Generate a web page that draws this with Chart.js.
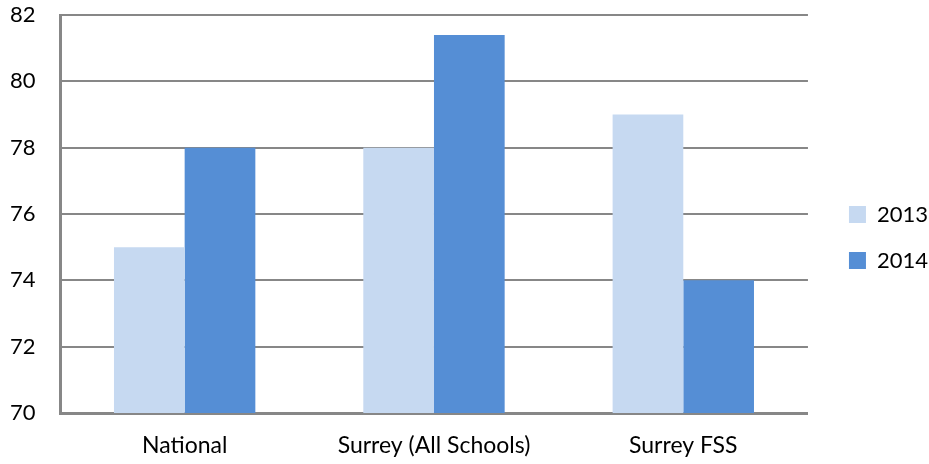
<!DOCTYPE html>
<html>
<head>
<meta charset="utf-8">
<script src="https://cdn.jsdelivr.net/npm/chart.js@4/dist/chart.umd.min.js"></script>
<style>
  html, body { margin: 0; padding: 0; background: #fff; }
  #wrap { width: 929px; height: 464px; }
</style>
</head>
<body>
<div id="wrap"><canvas id="chart1" width="929" height="464"></canvas></div>
<script>
var categories = ['National', 'Surrey (All Schools)', 'Surrey FSS'];
var values2013 = [75, 78, 79];
var values2014 = [78, 81.4, 74];
var yTicks = [70, 72, 74, 76, 78, 80, 82];

var axisGrey = '#878787';

// push the legend a bit further away from the plot (labels.padding is also the row gap)
var legendShift = {
  id: 'legendShift',
  afterLayout: function (chart) {
    chart.legend.left += 17;
    chart.legend.right += 17;
  }
};

var schoolsChart = new Chart(document.getElementById("chart1"), {
  type: 'bar',
  data: {
    labels: categories,
    datasets: [
      { label: '2013', data: values2013, backgroundColor: '#C6D9F1' },
      { label: '2014', data: values2014, backgroundColor: '#558ED5' }
    ]
  },
  plugins: [legendShift],
  options: {
    responsive: false,
    animation: false,
    layout: { padding: { left: 10, top: 15, right: 8, bottom: 4 } },
    datasets: {
      bar: { categoryPercentage: 0.567, barPercentage: 1.0 }
    },
    plugins: {
      legend: {
        position: 'right',
        labels: {
          boxWidth: 17,
          boxHeight: 17,
          padding: 24,
          color: '#000',
          font: { family: 'Lato', size: 22 }
        }
      },
      tooltip: { enabled: false }
    },
    scales: {
      x: {
        afterFit: function (scale) {
          scale.height = 47;
        },
        grid: { display: false, drawTicks: false },
        border: { display: true, color: axisGrey, width: 3 },
        ticks: {
          padding: 19,
          color: '#000',
          font: { family: 'Lato', size: 23 }
        }
      },
      y: {
        min: yTicks[0],
        max: yTicks[yTicks.length - 1],
        afterBuildTicks: function (scale) {
          scale.ticks = yTicks.map(function (v) { return { value: v }; });
        },
        afterFit: function (scale) {
          scale.width = 50;
        },
        grid: { color: axisGrey, lineWidth: 2, drawTicks: false },
        border: { display: true, color: axisGrey, width: 3 },
        ticks: {
          padding: 0,
          crossAlign: 'far',
          color: '#000',
          font: { family: 'Lato', size: 22 }
        }
      }
    }
  }
});
</script>
</body>
</html>
